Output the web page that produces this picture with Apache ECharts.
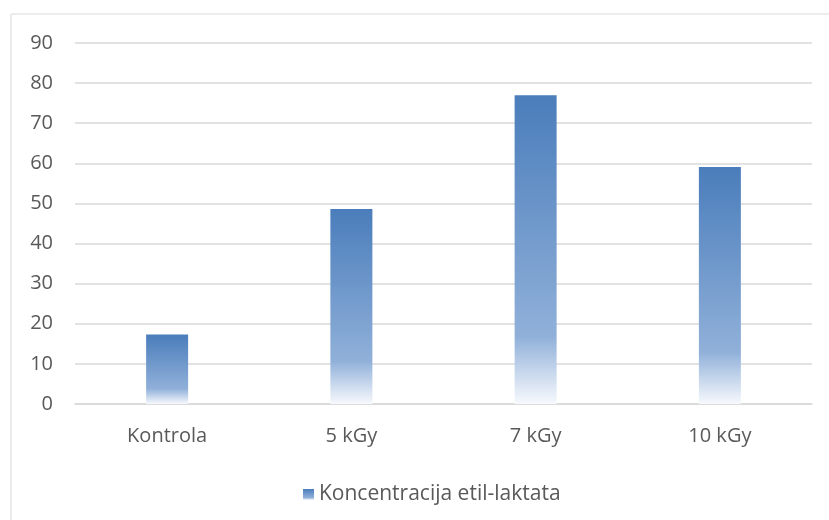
<!DOCTYPE html>
<html><head><meta charset="utf-8">
<script src="https://cdn.jsdelivr.net/npm/echarts@6/dist/echarts.min.js"></script>
<style>html,body{margin:0;padding:0;background:#fff;}#c{width:829px;height:520px;}</style>
</head><body><div id="c"></div>
<script>
const categories = ['Kontrola', '5 kGy', '7 kGy', '10 kGy'];
const values = [17.3, 48.6, 77.0, 59.1];
const seriesName = 'Koncentracija etil-laktata';

const chart = echarts.init(document.getElementById('c'), null, {renderer: 'canvas'});
const grad = new echarts.graphic.LinearGradient(0, 0, 0, 1, [
  {offset: 0, color: '#4a7dbb'},
  {offset: 0.78, color: '#90b0d9'},
  {offset: 1, color: '#f7f9fd'}
]);
chart.setOption({
  animation: false,
  textStyle: {fontFamily: 'Open Sans'},
  graphic: [{type: 'rect', shape: {x: 11, y: 14, width: 830, height: 520}, style: {fill: 'none', stroke: '#d9d9d9', lineWidth: 1}, silent: true}],
  grid: {left: 75, right: 17, top: 43, bottom: 116, containLabel: false},
  legend: {top: 479, left: 298, itemWidth: 11, itemHeight: 11, itemGap: 4,
    textStyle: {color: '#595959', fontSize: 21, fontFamily: 'Open Sans'}, data: [{name: seriesName, icon: 'rect'}]},
  xAxis: {type: 'category', data: categories,
    axisLine: {lineStyle: {color: '#d9d9d9', width: 1.5}}, axisTick: {show: false},
    axisLabel: {color: '#595959', fontSize: 20, margin: 22}},
  yAxis: {type: 'value', min: 0, max: 90, interval: 10,
    axisLine: {show: false}, axisTick: {show: false},
    splitLine: {lineStyle: {color: '#d9d9d9', width: 1.5}},
    axisLabel: {color: '#595959', fontSize: 20, margin: 22}},
  series: [{type: 'bar', name: seriesName, data: values, barWidth: 42,
    itemStyle: {color: grad}}]
});
</script></body></html>
